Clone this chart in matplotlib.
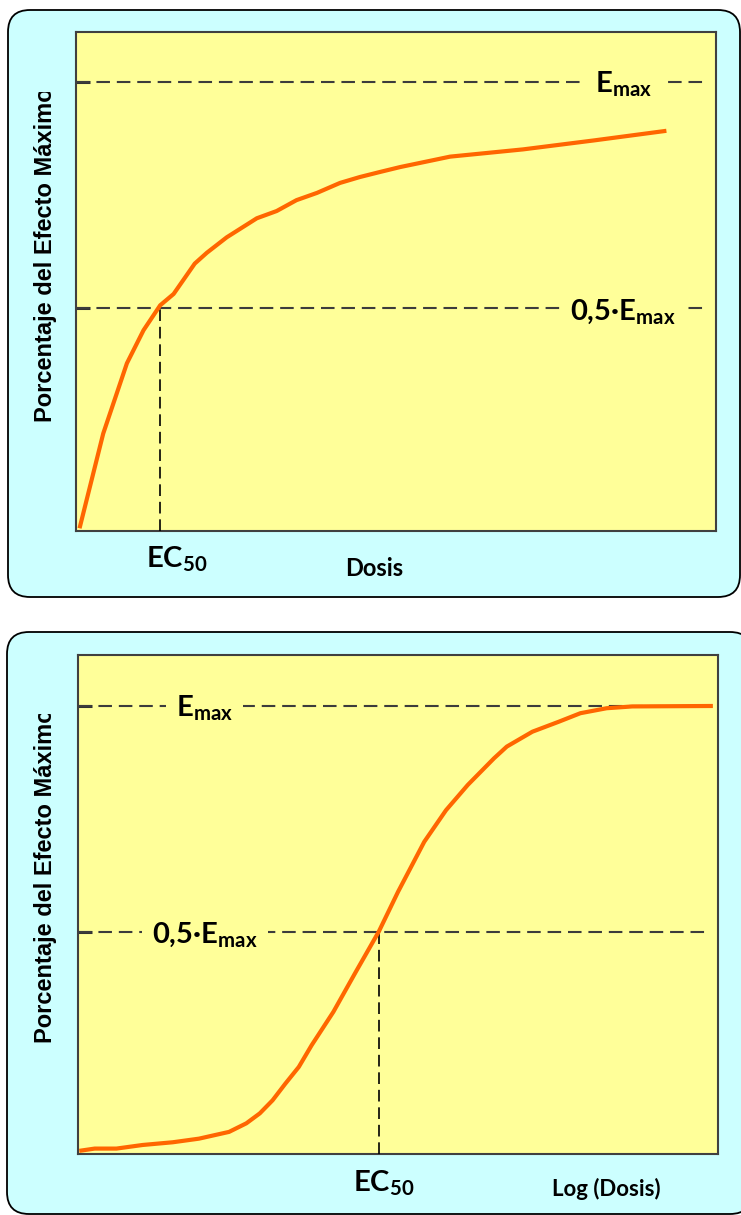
import matplotlib
matplotlib.use("Agg")
import matplotlib.pyplot as plt
from matplotlib.patches import FancyBboxPatch
from matplotlib.transforms import Bbox, TransformedBbox, blended_transform_factory

plt.rcParams['mathtext.fontset'] = 'custom'
plt.rcParams['mathtext.rm'] = 'Lato:bold'
plt.rcParams['mathtext.it'] = 'Lato:bold'
plt.rcParams['mathtext.bf'] = 'Lato:bold'

# Curva dosis-respuesta (escala lineal), % del efecto maximo
dosis = [0.6, 4.3, 8.0, 10.6, 13.2, 15.3, 18.6, 20.5, 23.6, 28.3, 31.4, 34.5,
         37.7, 41.3, 44.4, 47.5, 50.7, 58.5, 69.9, 81.1, 92.3]
efecto = [1.5, 22.4, 37.9, 45.2, 50.7, 53.2, 59.9, 62.3, 65.7, 69.9, 71.5, 73.9,
          75.5, 77.7, 79.0, 80.1, 81.2, 83.5, 85.1, 87.1, 89.2]
ec50_lin = 13.2

# Curva sigmoidea (escala logaritmica)
log_dosis = [0.2, 2.6, 6.0, 10.1, 14.8, 18.9, 23.6, 26.3, 28.4, 30.4, 32.4, 34.5,
             36.5, 39.9, 43.3, 47.0, 50.0, 54.1, 57.5, 60.9, 65.0, 67.0, 71.0,
             75.1, 78.5, 82.6, 86.6, 99.2]
efecto_log = [1.4, 1.9, 1.9, 2.7, 3.3, 4.1, 5.6, 7.5, 9.7, 12.6, 16.3, 20.0,
              24.8, 32.2, 40.8, 50.0, 58.8, 69.9, 76.9, 82.5, 88.4, 91.0, 94.3,
              96.5, 98.4, 99.5, 99.9, 100.0]
ec50_log = 47.0

emax = 100
half = 50

W, H = 741, 1215
CYAN = '#ccffff'
YELLOW = '#ffff99'
ORANGE = '#ff6600'
GRAY = '#3c3c3c'

fig = plt.figure(figsize=(W / 100, H / 100), dpi=100)
fig.patch.set_facecolor('white')


def px_box(x0, y0, x1, y1):
    # pixel coords from top-left -> inches from bottom-left
    return (x0 / 100, (H - y1) / 100), (x1 - x0) / 100, (y1 - y0) / 100


for box in [(8, 10, 740, 597), (7, 632, 752, 1214)]:
    xy, w, h = px_box(*box)
    fig.patches.append(FancyBboxPatch(xy, w, h, boxstyle='round,pad=0,rounding_size=0.22',
                                      transform=fig.dpi_scale_trans, facecolor=CYAN,
                                      edgecolor='black', linewidth=1.3, zorder=-1))


def make_axes(left, top, right, bottom, xlim, ylim):
    ax = fig.add_axes([left / W, (H - bottom) / H, (right - left) / W, (bottom - top) / H])
    ax.set_facecolor(YELLOW)
    ax.set_xlim(*xlim)
    ax.set_ylim(*ylim)
    for s in ax.spines.values():
        s.set_color('#404040')
        s.set_linewidth(1.5)
    ax.set_xticks([])
    ax.set_yticks([half, emax])
    ax.set_yticklabels([])
    ax.tick_params(axis='y', direction='in', length=10, width=2.2, color='#333333')
    return ax


def ref_line(ax, y, xend, label, xfrac):
    ax.plot([0, xend], [y, y], color=GRAY, lw=1.5, linestyle=(0, (6.5, 3.3)), zorder=2)
    tr = blended_transform_factory(ax.transAxes, ax.transData)
    ax.annotate(label, xy=(xfrac, y), xycoords=tr, xytext=(0, -7.8),
                textcoords='offset points', ha='left', va='baseline',
                fontsize=21, family='Lato', weight='bold', zorder=3,
                bbox=dict(boxstyle='square,pad=0.35', facecolor=YELLOW, edgecolor='none'))


def ylabel(x, ybottom, yclip):
    t = fig.text(x / W, (H - ybottom) / H, 'Porcentaje del Efecto Máximo', rotation=90,
                 ha='center', va='bottom', fontsize=17, family='Liberation Sans',
                 weight='bold')
    t.set_clip_box(TransformedBbox(Bbox.from_extents(0, 0, 1, (H - yclip) / H),
                                   fig.transFigure))
    t.set_clip_on(True)


# ---- panel superior: dosis lineal ----
ax1 = make_axes(75.7, 32, 716, 531, (0, 100.05), (0.9, 111.0))
ax1.plot(dosis, efecto, color=ORANGE, lw=3, zorder=4, solid_capstyle='butt')
ref_line(ax1, emax, 98.6, r'$\mathrm{E}_{\mathrm{max}}$', 0.811)
ref_line(ax1, half, 98.6, r'0,5·$\mathrm{E}_{\mathrm{max}}$', 0.772)
ax1.plot([ec50_lin, ec50_lin], [0.9, half], color='black', lw=1.2,
         linestyle=(0, (7, 3.5)), zorder=3)

ylabel(46, 422, 92)
fig.text(146 / W, (H - 568) / H, r'EC$_{\mathrm{50}}$', fontsize=21, family='Lato',
         weight='bold', va='baseline')
fig.text(345 / W, (H - 576) / H, 'Dosis', fontsize=17, family='Lato', weight='bold',
         va='baseline')

# ---- panel inferior: log dosis ----
ax2 = make_axes(77.7, 655, 718, 1154, (-0.05, 100), (0.7, 111.3))
ref_line(ax2, emax, 98.75, r'$\mathrm{E}_{\mathrm{max}}$', 0.1535)
ref_line(ax2, half, 98.75, r'0,5·$\mathrm{E}_{\mathrm{max}}$', 0.116)
ax2.plot(log_dosis, efecto_log, color=ORANGE, lw=3, zorder=4, solid_capstyle='butt')
ax2.plot([ec50_log, ec50_log], [0.7, half], color='black', lw=1.2,
         linestyle=(0, (7, 3.5)), zorder=3)

ylabel(46, 1043, 714)
fig.text(353 / W, (H - 1192) / H, r'EC$_{\mathrm{50}}$', fontsize=21, family='Lato',
         weight='bold', va='baseline')
fig.text(552 / W, (H - 1196) / H, 'Log (Dosis)', fontsize=16, family='Lato',
         weight='bold', va='baseline')

fig.savefig('out.png', dpi=100, facecolor='white')
